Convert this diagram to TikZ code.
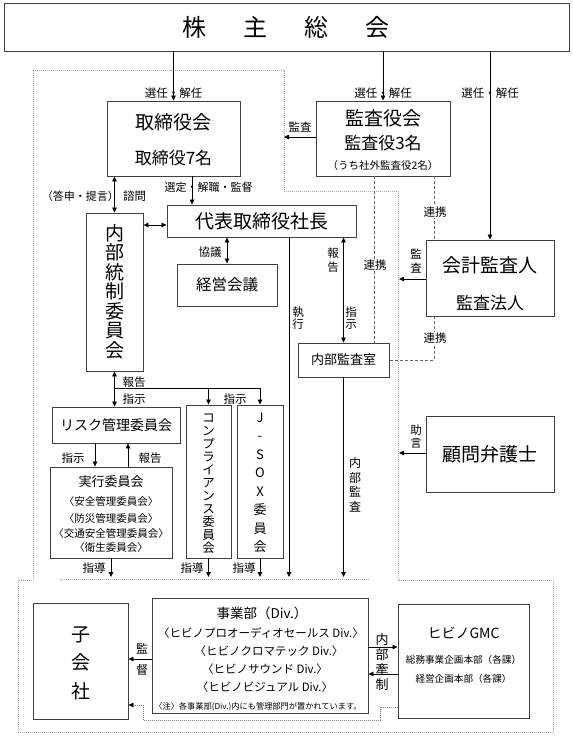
\documentclass[tikz,border=0pt]{standalone}
\usepackage{fontspec}
\setmainfont{Noto Sans CJK JP}
\usetikzlibrary{arrows.meta,calc}
\newcommand\myfs[1]{\fontsize{#1}{#1}\selectfont}
\newcommand\myvfs[2]{\fontsize{#1}{#2}\selectfont}
\begin{document}
\begin{tikzpicture}[x=1pt,y=-1pt,
  box/.style={draw=black!75, line width=0.9pt, inner sep=0pt},
  txt/.style={inner sep=0pt},
  lab/.style={inner sep=0pt, font=\myfs{11.5}},
  vlab/.style={inner sep=0pt, align=center},
  arr/.style={line width=0.8pt, -{Triangle[length=5pt,width=4.5pt]}},
  darr/.style={line width=0.8pt, {Triangle[length=5pt,width=4.5pt]}-{Triangle[length=5pt,width=4.5pt]}},
  link/.style={draw=black!60, line width=0.8pt, dash pattern=on 3pt off 2pt},
  bound/.style={draw=black!35, line width=0.8pt, dash pattern=on 1pt off 1pt}]
\fill[white] (0,0) rectangle (573,740);
\useasboundingbox (0,0) rectangle (573,740);

% boundaries
\draw[bound] (33,580) -- (33,70) -- (284,70) -- (284,191) -- (398,191) -- (398,580) -- (553,580) -- (553,732) -- (18,732) -- (18,580) -- (33,580);
\draw[bound] (60,579) -- (370,579);

% boxes
\node[box, minimum width=565pt, minimum height=48pt] (soukai) at (286.5,27) {};
\node[txt, font=\myfs{24}] (soukaiT) at (286,27) {株\hspace{37pt}主\hspace{37pt}総\hspace{37pt}会};

\node[box, minimum width=133pt, minimum height=75pt] (torishimari) at (173.5,138.5) {};
\node[txt, font=\myfs{19}] (torishimariT) at (173.5,122) {取締役会};
\node[txt, font=\myfs{17}] (torishimariS) at (173.5,158) {取締役7名};

\node[box, minimum width=134pt, minimum height=75pt] (kansayaku) at (383,138.5) {};
\node[txt, font=\myfs{19}] (kansayakuT) at (383,118) {監査役会};
\node[txt, font=\myfs{17}] (kansayakuS) at (383,143) {監査役3名};
\node[txt, font=\myfs{10.5}] (kansayakuN) at (383,166) {（うち社外監査役2名）};

\node[box, minimum width=189pt, minimum height=32pt, font=\myfs{19}] (shacho) at (261.5,221) {代表取締役社長};

\node[box, minimum width=57pt, minimum height=158pt] (naibu) at (114.5,292) {};
\node[vlab, font=\myvfs{19}{19.5}] (naibuT) at (114.5,291.5) {内\\部\\統\\制\\委\\員\\会};

\node[box, minimum width=100pt, minimum height=42pt, font=\myfs{15.5}] (keiei) at (227,285) {経営会議};

\node[box, minimum width=128pt, minimum height=76pt] (kaikei) at (490,278) {};
\node[txt, font=\myfs{19}] (kaikeiT) at (490,265) {会計監査人};
\node[txt, font=\myfs{17}] (kaikeiS) at (490,303) {監査法人};

\node[box, minimum width=91pt, minimum height=34pt, font=\myfs{13}] (kansashitsu) at (343.5,360) {内部監査室};

\node[box, minimum width=128pt, minimum height=76pt, font=\myfs{19}] (bengoshi) at (490,454) {顧問弁護士};

\node[box, minimum width=128pt, minimum height=36pt, font=\myfs{14}] (risk) at (116,425) {リスク管理委員会};

\node[box, minimum width=122pt, minimum height=91pt] (jikkou) at (111,512.5) {};
\node[txt, font=\myfs{13}] (jikkouT) at (111,482) {実行委員会};
\node[txt, font=\myfs{10.5}] (jikkou1) at (111,502) {〈安全管理委員会〉};
\node[txt, font=\myfs{10.5}] (jikkou2) at (111,519) {〈防災管理委員会〉};
\node[txt, font=\myfs{10.5}] (jikkou3) at (111,534) {〈交通安全管理委員会〉};
\node[txt, font=\myfs{10.5}] (jikkou4) at (111,548) {〈衛生委員会〉};

\node[box, minimum width=45pt, minimum height=153pt] (comp) at (208.5,481.5) {};
\node[vlab, font=\myvfs{12.5}{13}] (compT) at (208.5,484) {コ\\ン\\プ\\ラ\\イ\\ア\\ン\\ス\\委\\員\\会};

\node[box, minimum width=46pt, minimum height=153pt] (jsox) at (260,481.5) {};
\node[vlab, font=\myvfs{13}{18.5}] (jsoxT) at (260,483) {J\\-\\S\\O\\X\\委\\員\\会};

\node[box, minimum width=95pt, minimum height=116pt] (kogaisha) at (80.5,661) {};
\node[vlab, font=\myvfs{19}{28.5}] (kogaishaT) at (81,663) {子\\会\\社};

\node[box, minimum width=216pt, minimum height=115pt] (jigyou) at (260,655.5) {};
\node[txt, font=\myfs{13.5}] (jigyouT) at (262,613) {事業部（Div.）};
\node[txt, font=\myfs{11.5}] (jigyou1) at (261,633) {〈ヒビノプロオーディオセールス Div.〉};
\node[txt, font=\myfs{11.5}] (jigyou2) at (269,651) {〈ヒビノクロマテック Div.〉};
\node[txt, font=\myfs{11.5}] (jigyou3) at (265,669) {〈ヒビノサウンド Div.〉};
\node[txt, font=\myfs{11.5}] (jigyou4) at (265,687) {〈ヒビノビジュアル Div.〉};
\node[txt, font=\myfs{8.2}] (jigyouN) at (258,707) {〈注〉各事業部(Div.)内にも管理部門が置かれています。};

\node[box, minimum width=131pt, minimum height=114pt] (gmc) at (463.5,661) {};
\node[txt, font=\myfs{14}] (gmcT) at (463.5,633) {ヒビノGMC};
\node[txt, font=\myfs{9.6}] (gmc1) at (463.5,660) {総務事業企画本部（各課）};
\node[txt, font=\myfs{9.6}] (gmc2) at (463.5,679) {経営企画本部（各課）};

% connectors from 株主総会
\draw[arr] (soukai.south -| torishimari.north) -- (torishimari.north);
\node[lab] (l1) at (173.5,93) {選任・解任};
\draw[arr] (soukai.south -| kansayaku.north) -- (kansayaku.north);
\node[lab] (l2) at (383,93) {選任・解任};
\draw[arr] (soukai.south -| kaikei.north) -- (kaikei.north);
\node[lab] (l3) at (490,93) {選任・解任};

% 監査役会 -> 監査
\coordinate (kansaEnd) at (284,137);
\draw[arr] (kansayaku.west |- kansaEnd) -- (kansaEnd);
\node[lab] (l4) at (300,127) {監査};

% 取締役会 <-> 内部統制委員会
\draw[darr] (torishimari.south -| naibu.north) -- (naibu.north);
\node[txt, font=\myfs{11}, anchor=east] (l5) at (119,196) {（答申・提言）};
\node[lab, anchor=west] (l6) at (123,196) {諮問};

% 取締役会 -> 代表取締役社長
\draw[arr] ([xshift=18.5pt]torishimari.south) -- ([xshift=18.5pt]torishimari.south |- shacho.north);
\node[txt, font=\myfs{11}, anchor=west] (l7) at (164.5,187) {選定・解職・監督};

% 内部統制 <-> 社長
\coordinate (y225) at (0,225);
\draw[darr] (naibu.east |- y225) -- (shacho.west |- y225);

% 社長 <-> 経営会議
\draw[darr] (shacho.south -| keiei.north) -- (keiei.north);
\node[lab] (l8) at (210,252) {協議};

% 執行
\coordinate (bot) at (0,577);
\draw[arr] ([xshift=27.5pt]shacho.south) -- ([xshift=27.5pt]shacho.south |- bot);
\node[vlab, font=\myvfs{11.5}{12}] (l9) at (298,318) {執\\行};

% 社長 <-> 内部監査室
\draw[darr] (shacho.south -| kansashitsu.north) -- (kansashitsu.north);
\node[vlab, font=\myvfs{11.5}{14}] (l10) at (333,260) {報\\告};
\node[vlab, font=\myvfs{11.5}{12.5}] (l11) at (351,318) {指\\示};

% 内部監査
\draw[arr] (kansashitsu.south) -- (kansashitsu.south |- bot);
\node[vlab, font=\myvfs{12}{14.5}] (l12) at (355,485) {内\\部\\監\\査};

% 会計監査人 -> 監査
\coordinate (kkEnd) at (399,279);
\draw[arr] (kaikei.west |- kkEnd) -- (kkEnd);
\node[vlab, font=\myvfs{11.5}{14.5}] (l13) at (416,261) {監\\査};

% 顧問弁護士 -> 助言
\coordinate (bgEnd) at (399,453);
\draw[arr] (bengoshi.west |- bgEnd) -- (bgEnd);
\node[vlab, font=\myvfs{11.5}{13}] (l14) at (416,437) {助\\言};

% 連携 (dashed)
\draw[link] ([xshift=-9pt]kansayaku.south) -- ([xshift=-9pt]kansayaku.south |- kansashitsu.north);
\node[lab, fill=white, inner sep=1pt] (l15) at (375,265) {連携};
\draw[link] ([xshift=51pt]kansayaku.south) -- ([xshift=51pt]kansayaku.south |- kaikei.north);
\node[lab, fill=white, inner sep=1pt] (l16) at (435,212) {連携};
\coordinate (lkCorner) at (434,360);
\draw[link] (kaikei.south -| lkCorner) -- (lkCorner) -- (kansashitsu.east);
\node[lab, fill=white, inner sep=1pt] (l17) at (435,338) {連携};

% 内部統制 <-> リスク, 指示 branch
\draw[darr] (naibu.south) -- (naibu.south |- risk.north);
\node[lab] (l18) at (134,382) {報告};
\node[lab] (l19) at (134,399) {指示};
\coordinate (br) at (114.5,388);
\draw[line width=0.8pt] (br) -- (br -| jsox.north);
\draw[arr] (comp.north |- br) -- (comp.north);
\draw[arr] (jsox.north |- br) -- (jsox.north);
\node[lab] (l20) at (235,399) {指示};

% リスク <-> 実行委員会
\draw[arr] ([xshift=-21pt]risk.south) -- ([xshift=-21pt]risk.south |- jikkou.north);
\node[lab] (l21) at (73,458) {指示};
\draw[arr] ([xshift=12pt]risk.south |- jikkou.north) -- ([xshift=12pt]risk.south);
\node[lab] (l22) at (150,458) {報告};

% 指導
\draw[arr] (jikkou.south) -- (jikkou.south |- bot);
\node[lab] (l23) at (94,568) {指導};
\draw[arr] (comp.south) -- (comp.south |- bot);
\node[lab] (l24) at (192,568) {指導};
\draw[arr] (jsox.south) -- (jsox.south |- bot);
\node[lab] (l25) at (244,568) {指導};

% 事業部 -> 子会社 監督
\draw[arr] ([yshift=-3.5pt]jigyou.west) -- ([yshift=-3.5pt]jigyou.west -| kogaisha.east);
\node[vlab, font=\myvfs{12}{21}] (l26) at (142,659) {監\\督};

% 内部牽制
\draw[arr] ([yshift=8.5pt]jigyou.east) -- ([yshift=8.5pt]jigyou.east -| gmc.west);
\draw[arr] ([yshift=-18.5pt]jigyou.east -| gmc.west) -- ([yshift=-18.5pt]jigyou.east);
\node[vlab, font=\myvfs{13}{15}] (l27) at (382,662) {内\\部\\牽\\制};

% GMC -> 子会社 (dotted)
\coordinate (d1) at (380,707);
\coordinate (d2) at (380,720);
\coordinate (d3) at (143,720);
\coordinate (d4) at (143,705);
\draw[bound, draw=black!50, -{Triangle[length=5pt,width=4.5pt,fill=black,color=black]}] (gmc.west |- d1) -- (d1) -- (d2) -- (d3) -- (d4) -- (kogaisha.east |- d4);
\end{tikzpicture}
\end{document}
